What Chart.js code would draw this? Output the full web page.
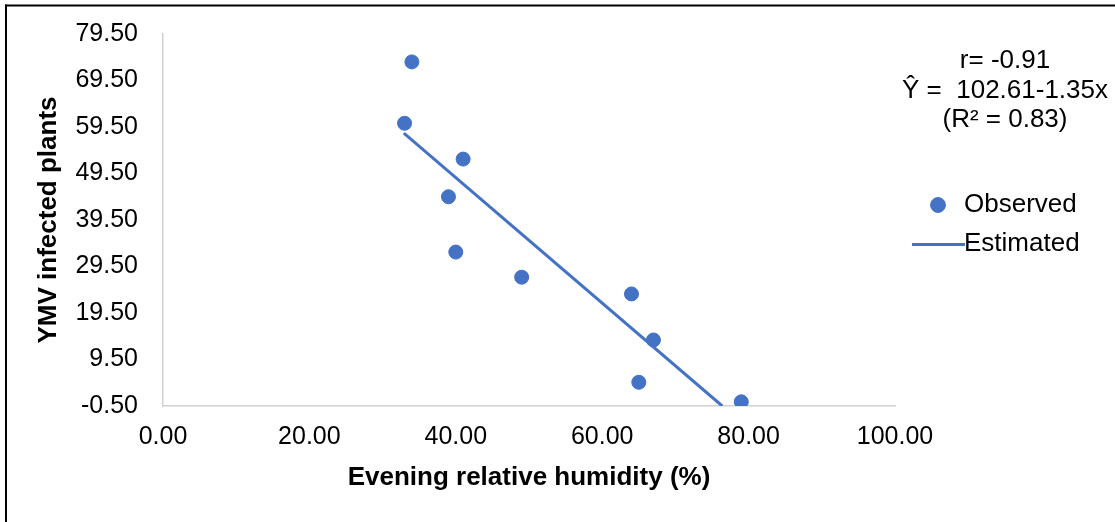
<!DOCTYPE html>
<html>
<head>
<meta charset="utf-8">
<script src="https://cdn.jsdelivr.net/npm/chart.js@4"></script>
<style>
  html, body { margin: 0; padding: 0; background: #fff; }
  #wrap { position: relative; width: 1115px; height: 522px; }
  canvas { display: block; }
</style>
</head>
<body>
<div id="wrap"><canvas id="c" width="1115" height="522"></canvas></div>
<script>
// ---- data ----
const observedX = [34, 33, 41, 39, 40, 49, 64, 67, 65, 79];
const observedY = [73.5, 60.3, 52.6, 44.5, 32.6, 27.2, 23.6, 13.7, 4.6, 0.4];
const estimatedX = [32.9, 76.4];
const estimatedY = [58.2, -0.5];
const xTicks = [0, 20, 40, 60, 80, 100];
const yTicks = [-0.5, 9.5, 19.5, 29.5, 39.5, 49.5, 59.5, 69.5, 79.5];
const seriesNames = ['Observed', 'Estimated'];
const xTitle = 'Evening relative humidity (%)';
const yTitle = 'YMV infected plants';
const annotationLines = ['r= -0.91', 'Ŷ =  102.61-1.35x', '(R² = 0.83)'];

const BLUE = '#4472C4';
const FONT = "'Liberation Sans', Arial, sans-serif";

// legend symbol for the estimated line (long line sample)
const lineSymbol = document.createElement('canvas');
lineSymbol.width = 53;
lineSymbol.height = 3;
(function () {
  const c = lineSymbol.getContext('2d');
  c.fillStyle = BLUE;
  c.fillRect(0, 0, 53, 3);
})();

const framePlugin = {
  id: 'frame',
  beforeDraw(chart) {
    const ctx = chart.ctx;
    ctx.save();
    ctx.fillStyle = '#ffffff';
    ctx.fillRect(0, 0, chart.width, chart.height);
    ctx.fillStyle = '#000000';
    ctx.fillRect(5, 4.5, chart.width - 5, 2);
    ctx.fillRect(5, 4.5, 2, chart.height - 4.5);
    ctx.restore();
  }
};

const annotationPlugin = {
  id: 'annot',
  afterDraw(chart) {
    const ctx = chart.ctx;
    const a = chart.chartArea;
    ctx.save();
    ctx.font = '26px ' + FONT;
    ctx.fillStyle = '#000';
    ctx.textAlign = 'center';
    ctx.textBaseline = 'middle';
    annotationLines.forEach((t, i) => {
      ctx.fillText(t, a.right + 110, a.top + 27 + i * 29.5);
    });
    ctx.restore();
  }
};

const legendSizePlugin = {
  id: 'legendSize',
  afterInit(chart) {
    const lg = chart.legend;
    if (lg && !lg._patched) {
      const orig = lg.fit;
      lg.fit = function () { orig.call(this); this.width = 220; };
      lg._patched = true;
    }
  },
  afterLayout(chart) {
    const lg = chart.legend;
    if (lg) {
      lg.top += 4.5; lg.bottom += 4.5;
      lg.left += 17; lg.right += 17;
    }
  }
};

new Chart(document.getElementById('c'), {
  type: 'scatter',
  data: {
    datasets: [
      {
        label: seriesNames[0],
        data: observedX.map((x, i) => ({ x: x, y: observedY[i] })),
        backgroundColor: BLUE,
        borderColor: BLUE,
        borderWidth: 1,
        pointRadius: 7,
        pointHoverRadius: 7,
        pointStyle: 'circle'
      },
      {
        label: seriesNames[1],
        data: estimatedX.map((x, i) => ({ x: x, y: estimatedY[i] })),
        showLine: true,
        borderColor: BLUE,
        backgroundColor: BLUE,
        borderWidth: 3,
        borderCapStyle: 'butt',
        pointRadius: 0,
        pointHoverRadius: 0,
        pointStyle: lineSymbol
      }
    ]
  },
  options: {
    responsive: false,
    animation: false,
    events: [],
    layout: { padding: { left: 10, right: 0, top: 34, bottom: 0 } },
    plugins: {
      tooltip: { enabled: false },
      legend: {
        position: 'right',
        fullSize: false,
        align: 'center',
        labels: {
          usePointStyle: true,
          boxHeight: 10.5,
          padding: 13,
          color: '#000',
          font: { family: FONT, size: 26 }
        }
      }
    },
    scales: {
      x: {
        type: 'linear',
        min: 0,
        max: 100,
        afterFit(s) { s.height = 116; },
        afterBuildTicks(s) { s.ticks = xTicks.map(v => ({ value: v })); },
        grid: { display: false, drawTicks: false },
        border: { display: true, color: '#d0d0d0', width: 1.5 },
        ticks: {
          padding: 16,
          color: '#000',
          font: { family: FONT, size: 25 },
          callback: v => Number(v).toFixed(2)
        },
        title: {
          display: true,
          text: xTitle,
          color: '#000',
          font: { family: FONT, size: 26, weight: 'bold' },
          padding: { top: 0, bottom: 29 }
        }
      },
      y: {
        type: 'linear',
        min: -0.5,
        max: 79.5,
        afterFit(s) { s.width = 153; s.paddingTop = 0; s.paddingBottom = 0; },
        afterBuildTicks(s) { s.ticks = yTicks.map(v => ({ value: v })); },
        grid: { display: false, drawTicks: false },
        border: { display: true, color: '#d0d0d0', width: 1.5 },
        ticks: {
          padding: 25,
          color: '#000',
          font: { family: FONT, size: 25 },
          callback: v => Number(v).toFixed(2)
        },
        title: {
          display: true,
          text: yTitle,
          color: '#000',
          font: { family: FONT, size: 26, weight: 'bold' },
          padding: { top: 23, bottom: 0 }
        }
      }
    }
  },
  plugins: [framePlugin, annotationPlugin, legendSizePlugin]
});
</script>
</body>
</html>
